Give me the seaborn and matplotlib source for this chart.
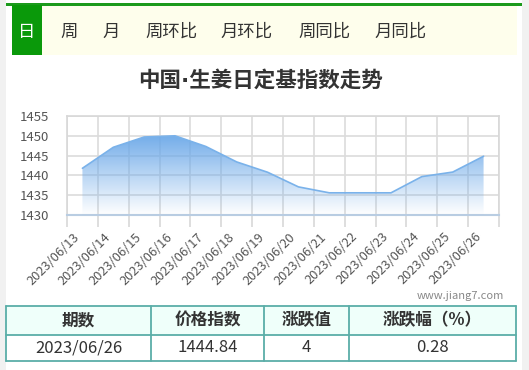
import numpy as np
import pandas as pd
import matplotlib
matplotlib.use("Agg")
import matplotlib.pyplot as plt
import seaborn as sns
from matplotlib.patches import Rectangle, Polygon

# ---- data ----
dates = ['2023/06/13', '2023/06/14', '2023/06/15', '2023/06/16', '2023/06/17',
         '2023/06/18', '2023/06/19', '2023/06/20', '2023/06/21', '2023/06/22',
         '2023/06/23', '2023/06/24', '2023/06/25', '2023/06/26']
values = [1441.8, 1447.1, 1449.7, 1450.0, 1447.3, 1443.4, 1440.8, 1437.1,
          1435.6, 1435.6, 1435.6, 1439.7, 1440.84, 1444.84]
y_ticks = [1430, 1435, 1440, 1445, 1450, 1455]
tabs = ['日', '周', '月', '周环比', '月环比', '周同比', '月同比']
title = '中国·生姜日定基指数走势'
table_header = ['期数', '价格指数', '涨跌值', '涨跌幅（%）']
table_row = ['2023/06/26', '1444.84', '4', '0.28']
watermark = 'www.jiang7.com'

sns.set_theme(style="white")
plt.rcParams['font.family'] = ['Noto Sans CJK SC', 'DejaVu Sans']
plt.rcParams['axes.unicode_minus'] = False

W, H = 529, 370
fig = plt.figure(figsize=(W / 100, H / 100), dpi=100)
fig.patch.set_facecolor('white')

# ---- overlay in pixel coordinates ----
ov = fig.add_axes([0, 0, 1, 1], zorder=0)
ov.set_xlim(0, W)
ov.set_ylim(H, 0)
ov.axis('off')

ov.add_patch(Rectangle((0, 0), 6, H, color='#f1f1f1', lw=0))
ov.add_patch(Rectangle((522, 0), W - 522, H, color='#f1f1f1', lw=0))
# tab bar
ov.add_patch(Rectangle((12, 5), 505, 50, color='#fefeec', lw=0))
ov.add_patch(Rectangle((6, 3), 516, 2.5, color='#1c9a1c', lw=0))
ov.add_patch(Rectangle((12, 5), 29.5, 50, color='#0a990a', lw=0))
tab_x = [26.5, 69, 111, 171, 247, 324, 401]
for i, (t, x) in enumerate(zip(tabs, tab_x)):
    ov.text(x, 32, t, ha='center', va='center', fontsize=12.5,
            color='white' if i == 0 else '#333333')

ov.text(260, 80, title, ha='center', va='center', fontsize=15.5,
        fontweight='bold', color='#333333',
        family=['DejaVu Sans', 'Noto Sans CJK SC'])
ov.text(504, 296, watermark, ha='right', va='center', fontsize=8,
        color='#888888')

# table
col_x = [6, 151, 264, 349, 516]
row_y = [305.5, 335, 361]
ov.add_patch(Rectangle((col_x[0], row_y[0]), col_x[-1] - col_x[0],
                       row_y[1] - row_y[0], color='#effffa', lw=0))
bc = '#5aaea8'
for y in row_y:
    ov.plot([col_x[0], col_x[-1]], [y, y], color=bc, lw=1.3)
for x in col_x:
    ov.plot([x, x], [row_y[0], row_y[-1]], color=bc, lw=1.3)
for i in range(4):
    cx = (col_x[i] + col_x[i + 1]) / 2
    ov.text(cx, (row_y[0] + row_y[1]) / 2, table_header[i], ha='center',
            va='center', fontsize=12, fontweight='bold', color='#333333')
    ov.text(cx, (row_y[1] + row_y[2]) / 2, table_row[i], ha='center',
            va='center', fontsize=12, color='#333333')

# ---- chart ----
left, right = 67 / W, 499 / W
bottom, top = 1 - 215 / H, 1 - 116 / H
ax = fig.add_axes([left, bottom, right - left, top - bottom], zorder=2)
ax.set_facecolor('none')

df = pd.DataFrame({'date': dates, 'value': values})
xpos = np.arange(len(dates))
sns.lineplot(x=xpos, y=df['value'].values, ax=ax, color='#7ab2ea', lw=1.2,
             zorder=4)

ymin, ymax = y_ticks[0], y_ticks[-1]
ax.set_xlim(-0.5, len(dates) - 0.5)
ax.set_ylim(ymin, ymax)

# gradient area
poly_pts = [(xpos[0], ymin)] + list(zip(xpos, values)) + [(xpos[-1], ymin)]
poly = Polygon(poly_pts, closed=True, facecolor='none', edgecolor='none')
ax.add_patch(poly)
top_c = np.array([0.42, 0.66, 0.91])
n = 256
alphas = np.linspace(0.95, 0.0, n)[:, None]
grad = np.ones((n, 1, 4))
grad[:, :, :3] = top_c
grad[:, :, 3] = alphas
top_v = max(values)
im = ax.imshow(grad, extent=[xpos[0], xpos[-1], ymin, top_v], origin='upper',
               aspect='auto', zorder=3, interpolation='bilinear')
im.set_clip_path(poly)

# grid and ticks
ax.set_xticks(np.arange(-0.5, len(dates), 1.0))
ax.set_xticklabels([])
ax.set_xticks(xpos, minor=True)
ax.set_xticklabels(dates, minor=True, rotation=45, ha='right',
                   fontsize=9.3, color='#555555')
ax.tick_params(axis='x', which='major', length=8.5, width=1.2,
               color='#d8d8d8', direction='out', bottom=True)
ax.tick_params(axis='x', which='minor', length=0, pad=11)
ax.set_yticks(y_ticks)
ax.set_yticklabels([str(v) for v in y_ticks], fontsize=9.5, color='#555555')
ax.tick_params(axis='y', length=0, pad=13)
ax.grid(True, which='major', color='#dcdcdc', lw=1.2)
for s in ['top', 'right', 'left']:
    ax.spines[s].set_color('#d8d8d8')
    ax.spines[s].set_linewidth(1.2)
ax.spines['bottom'].set_color('#b9cde2')
ax.spines['bottom'].set_linewidth(1.5)
ax.set_xlabel('')
ax.set_ylabel('')

fig.savefig('out.png', dpi=100, facecolor='white')
